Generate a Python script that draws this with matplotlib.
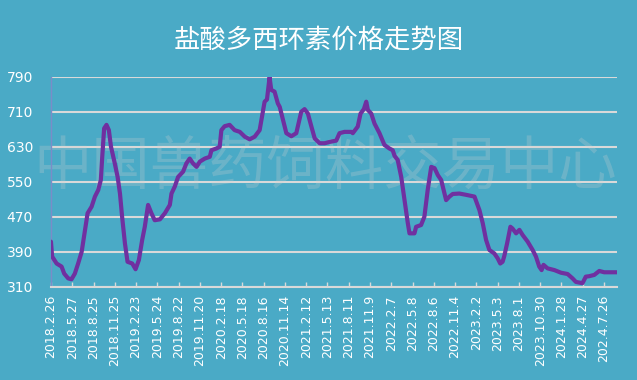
import matplotlib.pyplot as plt

plt.rcParams["font.family"] = ["Noto Sans CJK SC", "DejaVu Sans"]

# day offsets from 2018.2.26 and price values
days = [0, 5, 24, 45, 56, 73, 87, 101, 115, 130, 144, 155, 172, 186, 200, 211,
        217, 225, 235, 245, 254, 270, 282, 292, 301, 313, 324, 344, 358, 372,
        386, 397, 411, 425, 439, 461, 482, 503, 510, 524, 538, 559, 573, 587,
        601, 616, 630, 651, 672, 679, 700, 714, 721, 735, 756, 777, 799, 820,
        841, 862, 883, 893, 904, 914, 925, 932, 946, 960, 968, 982, 996, 1017,
        1038, 1059, 1073, 1087, 1102, 1116, 1137, 1158, 1179, 1207, 1221, 1242,
        1271, 1277, 1298, 1310, 1324, 1334, 1341, 1355, 1369, 1390, 1411, 1432,
        1446, 1454, 1467, 1482, 1496, 1510, 1517, 1538, 1545, 1566, 1580, 1594,
        1609, 1623, 1637, 1651, 1665, 1672, 1686, 1700, 1728, 1757, 1792, 1813,
        1827, 1841, 1855, 1876, 1890, 1901, 1911, 1918, 1930, 1944, 1953, 1968,
        1982, 1996, 2017, 2038, 2052, 2066, 2076, 2084, 2101, 2130, 2158, 2186,
        2207, 2221, 2249, 2263, 2277, 2299, 2320, 2341, 2394]
prices = [413, 379, 363, 356, 340, 329, 327, 340, 363, 390, 440, 478, 493, 516,
          531, 554, 607, 672, 680, 668, 630, 592, 561, 523, 470, 409, 367, 363,
          350, 371, 417, 447, 497, 478, 462, 464, 478, 497, 523, 539, 561, 573,
          592, 603, 592, 584, 596, 603, 607, 622, 626, 630, 668, 677, 680, 668,
          664, 653, 647, 653, 668, 699, 733, 738, 789, 760, 756, 729, 721, 691,
          661, 654, 661, 710, 716, 706, 676, 649, 638, 638, 641, 644, 661, 664,
          664, 661, 676, 706, 716, 733, 714, 706, 683, 661, 634, 626, 622, 609,
          600, 561, 508, 455, 432, 432, 447, 451, 470, 531, 584, 581, 565, 554,
          523, 508, 516, 522, 523, 520, 516, 485, 455, 417, 394, 386, 375, 363,
          367, 380, 409, 447, 443, 432, 440, 428, 413, 394, 379, 356, 348, 360,
          352, 348, 342, 339, 329, 321, 318, 333, 334, 337, 346, 343, 343]

tick_labels = ["2018.2.26", "2018.5.27", "2018.8.25", "2018.11.25", "2019.2.23",
               "2019.5.24", "2019.8.22", "2019.11.20", "2020.2.18", "2020.5.18",
               "2020.8.16", "2020.11.14", "2021.2.12", "2021.5.13", "2021.8.11",
               "2021.11.9", "2022.2.7", "2022.5.8", "2022.8.6", "2022.11.4",
               "2023.2.2", "2023.5.3", "2023.8.1", "2023.10.30", "2024.1.28",
               "2024.4.27", "202.4.7.26"]
y_ticks = [310, 390, 470, 550, 630, 710, 790]

bg = "#4aaac6"
fig = plt.figure(figsize=(6.37, 3.80), dpi=100, facecolor=bg)
ax = fig.add_axes([0.080, 0.2455, 0.8886, 0.5525], facecolor=bg)

ax.plot(days, prices, color="#7030a0", linewidth=3.0, solid_joinstyle="round",
        solid_capstyle="round", zorder=3)

ax.set_ylim(310, 790)
ax.set_xlim(0, 2395)
ax.set_yticks(y_ticks)
ax.set_yticklabels([str(v) for v in y_ticks], fontsize=10, color="white",
                   family="DejaVu Sans")
ax.set_xticks([i * 90 for i in range(len(tick_labels))])
ax.set_xticklabels(tick_labels, rotation=90, fontsize=9, color="white",
                   family="DejaVu Sans")
ax.tick_params(axis="y", length=0, pad=13)
ax.tick_params(axis="x", direction="in", length=3.5, width=1, color="#d9d9d9", pad=6)
ax.yaxis.grid(True, color="#d9d9d9", linewidth=1.5)
ax.set_axisbelow(True)

for s in ["top", "right"]:
    ax.spines[s].set_visible(False)
ax.spines["bottom"].set_color("#d9d9d9")
ax.spines["bottom"].set_linewidth(1.5)
ax.spines["left"].set_color("#7b8cc8")
ax.spines["left"].set_linewidth(1)

ax.text(0.51, 0.56, "中国兽药饲料交易中心", transform=fig.transFigure,
        ha="center", va="center", fontsize=42, color="#d0d0d0", alpha=0.25,
        zorder=2, clip_on=False)

fig.text(0.5, 0.895, "盐酸多西环素价格走势图", ha="center", va="center",
         fontsize=19, color="white", weight="light")

fig.savefig("out.png", dpi=100, facecolor=bg)
